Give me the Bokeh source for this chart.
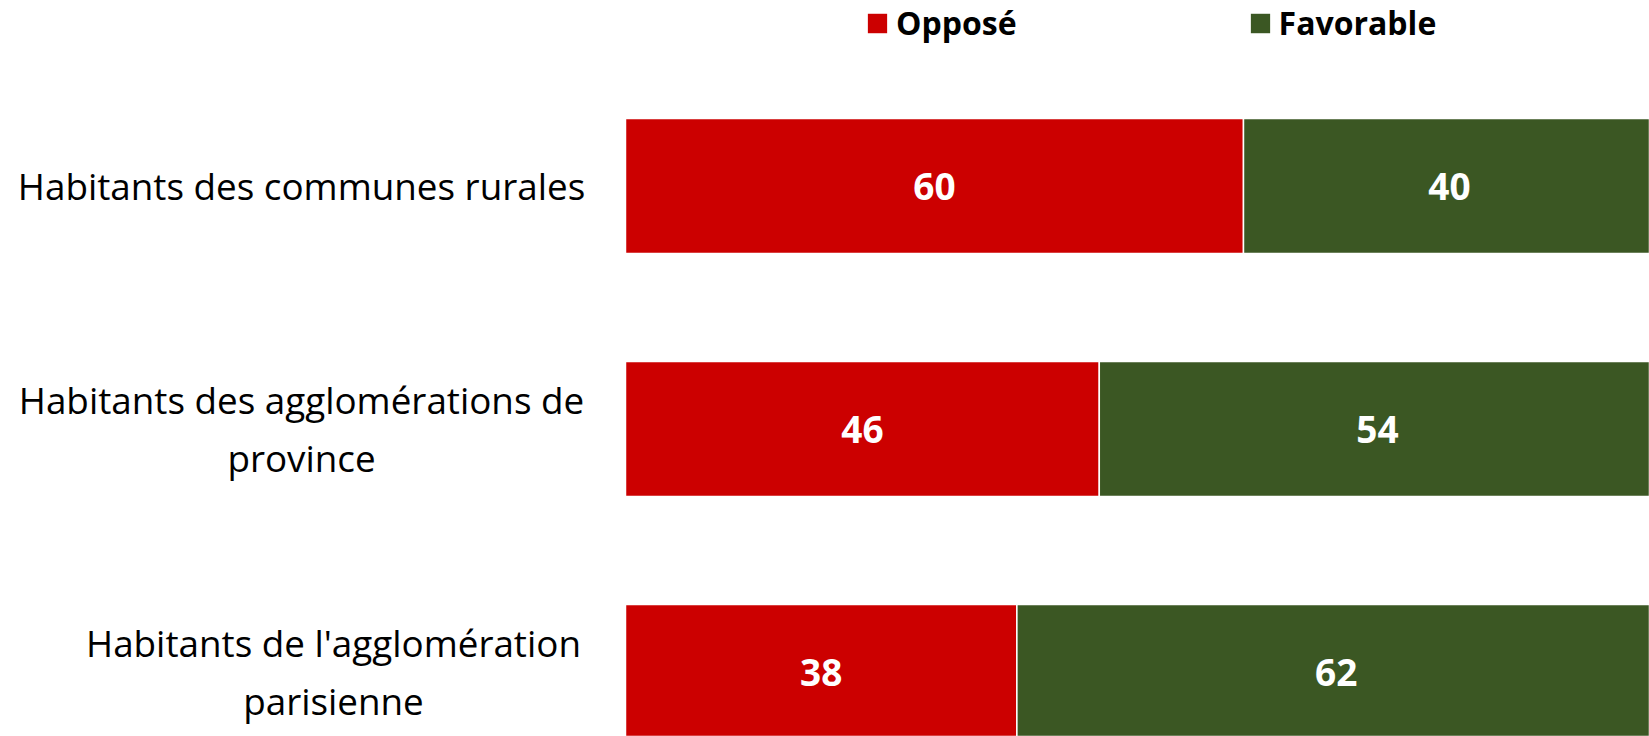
from bokeh.plotting import figure
from bokeh.models import ColumnDataSource, Range1d
from bokeh.core.properties import value
from bokeh.embed import file_html
from bokeh.resources import INLINE

# ---- data ----
categories = [
    "Habitants des communes rurales",
    "Habitants des agglomérations de\nprovince",
    "Habitants de l'agglomération\nparisienne",
]
oppose = [60, 46, 38]
favorable = [40, 54, 62]
series_names = ["Opposé", "Favorable"]
colors = ["#CC0000", "#3B5723"]

idx = list(range(len(categories)))
src = ColumnDataSource(dict(idx=idx, opp=oppose, fav=favorable))

W, H = 1649, 736
p = figure(width=W, height=H, output_backend="svg", toolbar_location=None,
           x_range=Range1d(-60.68, 99.42), y_range=Range1d(2.2654, -0.7634),
           min_border=0)
p.axis.visible = False
p.grid.visible = False
p.outline_line_color = None
p.background_fill_color = "white"

p.hbar_stack(["opp", "fav"], y="idx", height=0.5556, color=colors,
             line_color="white", line_width=1.5, source=src,
             legend_label=series_names)

# value labels
lab_x, lab_y, lab_t = [], [], []
for i, (o, f) in enumerate(zip(oppose, favorable)):
    lab_x += [o / 2, o + f / 2]
    lab_y += [i, i]
    lab_t += [str(o), str(f)]
p.text(x=lab_x, y=lab_y, text=lab_t, text_align="center", text_baseline="middle",
       text_color="white", text_font=value("Open Sans"), text_font_style="bold",
       text_font_size="37px")

# category labels (left), block centres in screen px converted to data
px_per_unit = 10.3
centers_px = [301.0, 301.0, 333.0]
cat_x = [(c - 625) / px_per_unit for c in centers_px]
p.text(x=cat_x, y=idx, text=categories, text_align="center", text_baseline="middle",
       text_color="black", text_font=value("Open Sans"), text_font_size="36.8px",
       text_line_height=1.17)

lg = p.legend[0]
lg.orientation = "horizontal"
lg.location = (864, 692)
lg.border_line_color = None
lg.background_fill_alpha = 0
lg.padding = 0
lg.margin = 0
lg.glyph_width = 26
lg.glyph_height = 26
lg.label_standoff = 6
lg.spacing = 230
lg.label_text_font = "Open Sans"
lg.label_text_font_style = "bold"
lg.label_text_font_size = "32px"
lg.label_text_color = "black"

open("out.html", "w").write(file_html(p, INLINE))
